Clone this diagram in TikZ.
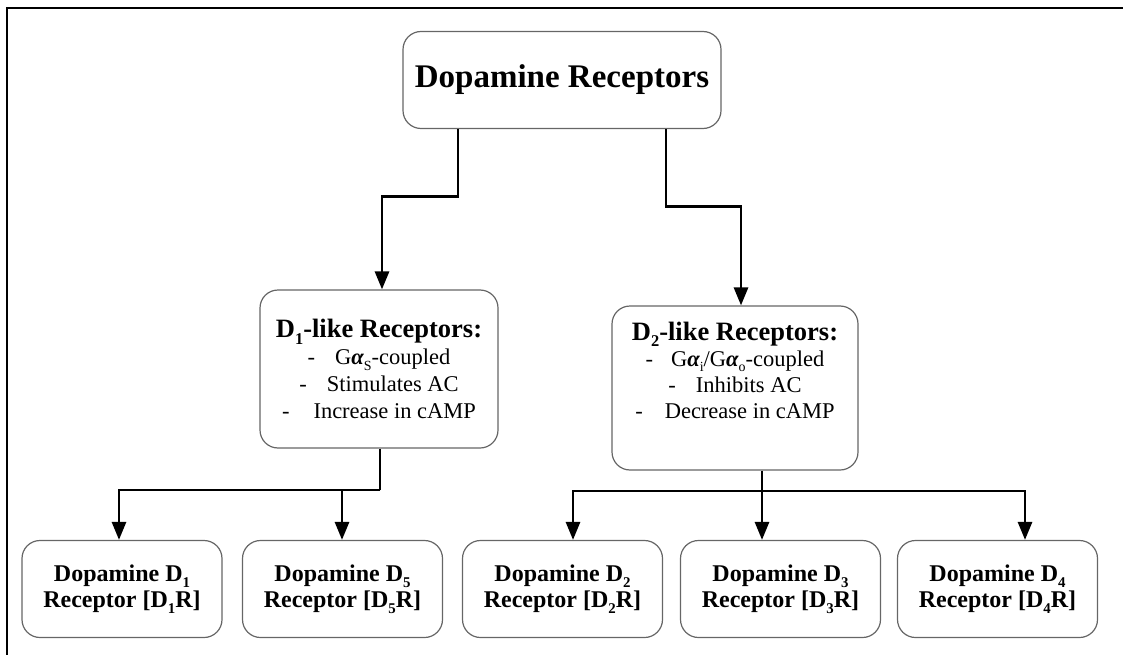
\documentclass[tikz,border=0pt]{standalone}
\usepackage{fontspec}
\setmainfont{Liberation Serif}
\usetikzlibrary{arrows.meta}

\tikzset{
  rbox/.style={draw=black!60, line width=1.2pt, rounded corners=18pt, align=center, inner sep=0pt},
  flow/.style={line width=2.8pt, -{Triangle[length=18pt,width=14pt]}},
  link/.style={line width=2.8pt},
}
\newcommand{\ga}{G{\bfseries\itshape α}}
\newcommand{\lo}[1]{\raisebox{-0.55ex}{\scalebox{0.62}{#1}}}

\begin{document}
\begin{tikzpicture}[x=1pt, y=-1pt]
\useasboundingbox (0,0) rectangle (1123,655);

%% frame (top and left edge only)
\draw[line width=2.2pt] (7,655) -- (7,8) -- (1123,8);

%% top level
\node[rbox, minimum width=318pt, minimum height=97pt, font=\fontsize{33}{38}\selectfont\bfseries]
  (dr) at (562, 80) {Dopamine Receptors};

%% families
\node[rbox, minimum width=238pt, minimum height=158pt, font=\fontsize{22.5}{27}\selectfont]
  (d1like) at (379, 369)
  {{\fontsize{26.5}{30}\selectfont\bfseries D\lo{1}-like Receptors:}\\
   -\hspace{20pt}\ga\lo{S}-coupled\\
   -\hspace{20pt}Stimulates AC\\
   -\hspace{24pt}Increase in cAMP};
\node[rbox, minimum width=246pt, minimum height=164pt, font=\fontsize{22.5}{26}\selectfont]
  (d2like) at (735, 388)
  {{\fontsize{26.5}{30}\selectfont\bfseries D\lo{2}-like Receptors:}\\
   -\hspace{18pt}\ga\lo{i}/\ga\lo{o}-coupled\\
   -\hspace{20pt}Inhibits AC\\
   -\hspace{22pt}Decrease in cAMP\\[10pt]\mbox{}};

%% subtypes
\tikzset{sub/.style={rbox, minimum width=200pt, minimum height=97pt,
  font=\fontsize{24}{26}\selectfont\bfseries}}
\node[sub] (dOne)   at (122, 589)   {Dopamine D\lo{1}\\Receptor [D\lo{1}R]};
\node[sub] (dFive)  at (342.5, 589) {Dopamine D\lo{5}\\Receptor [D\lo{5}R]};
\node[sub] (dTwo)   at (562.5, 589) {Dopamine D\lo{2}\\Receptor [D\lo{2}R]};
\node[sub] (dThree) at (780.5, 589) {Dopamine D\lo{3}\\Receptor [D\lo{3}R]};
\node[sub] (dFour)  at (997.5, 589) {Dopamine D\lo{4}\\Receptor [D\lo{4}R]};

%% connectors
\draw[flow] ([xshift=-104pt]dr.south) -- ++(0,67) -| ([xshift=3pt]d1like.north);
\draw[flow] ([xshift=104pt]dr.south) -- ++(0,77) -| ([xshift=6pt]d2like.north);

\coordinate (j1) at (380, 490);
\draw[link] ([xshift=1pt]d1like.south) -- (j1);
\draw[flow] (j1) -| ([xshift=-3pt]dOne.north);
\draw[flow] (j1) -| ([xshift=-0.5pt]dFive.north);

\coordinate (j2) at (762, 491);
\draw[link] ([xshift=27pt]d2like.south) -- (j2);
\draw[flow] (j2) -| ([xshift=10.5pt]dTwo.north);
\draw[flow] (j2) -| ([xshift=-18.5pt]dThree.north);
\draw[flow] (j2) -| ([xshift=27.5pt]dFour.north);

\end{tikzpicture}
\end{document}
